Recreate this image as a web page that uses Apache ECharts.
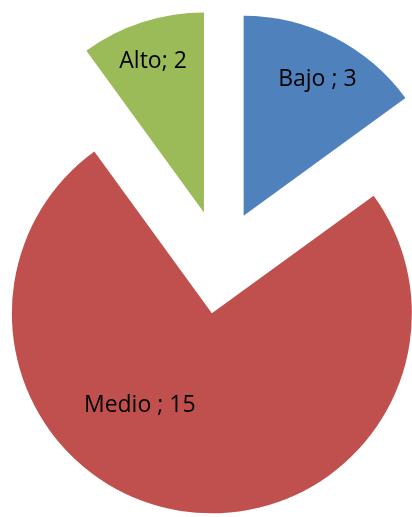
<!DOCTYPE html>
<html>
<head>
<meta charset="utf-8">
<script src="https://cdn.jsdelivr.net/npm/echarts@6/dist/echarts.min.js"></script>
<style>html,body{margin:0;padding:0;background:#fff;}#c{width:412px;height:517px;}</style>
</head>
<body>
<div id="c"></div>
<script>
var categories = ['Bajo', 'Medio', 'Alto'];
var values = [3, 15, 2];
var labelTexts = ['Bajo ; 3', 'Medio ; 15', 'Alto; 2'];
var colors = ['#4F81BD', '#C0504D', '#9BBB59'];
var labelShift = [[27, -44], [-56, -10], [-19, -53]];

var chart = echarts.init(document.getElementById('c'), null, {renderer: 'canvas'});
chart.setOption({
  animation: false,
  backgroundColor: '#ffffff',
  series: [{
    type: 'pie',
    center: [220, 262],
    radius: [0, 200],
    startAngle: 90,
    clockwise: true,
    selectedMode: 'multiple',
    selectedOffset: 52,
    avoidLabelOverlap: false,
    silent: true,
    label: {
      show: true,
      position: 'inside',
      color: '#000',
      fontFamily: 'Open Sans',
      fontSize: 23,
      formatter: function (p) { return labelTexts[p.dataIndex]; }
    },
    labelLine: {show: false},
    labelLayout: function (p) {
      var s = labelShift[p.dataIndex];
      return {dx: s[0], dy: s[1]};
    },
    data: categories.map(function (c, i) {
      return {name: c, value: values[i], selected: true, itemStyle: {color: colors[i]}};
    })
  }]
});
</script>
</body>
</html>
